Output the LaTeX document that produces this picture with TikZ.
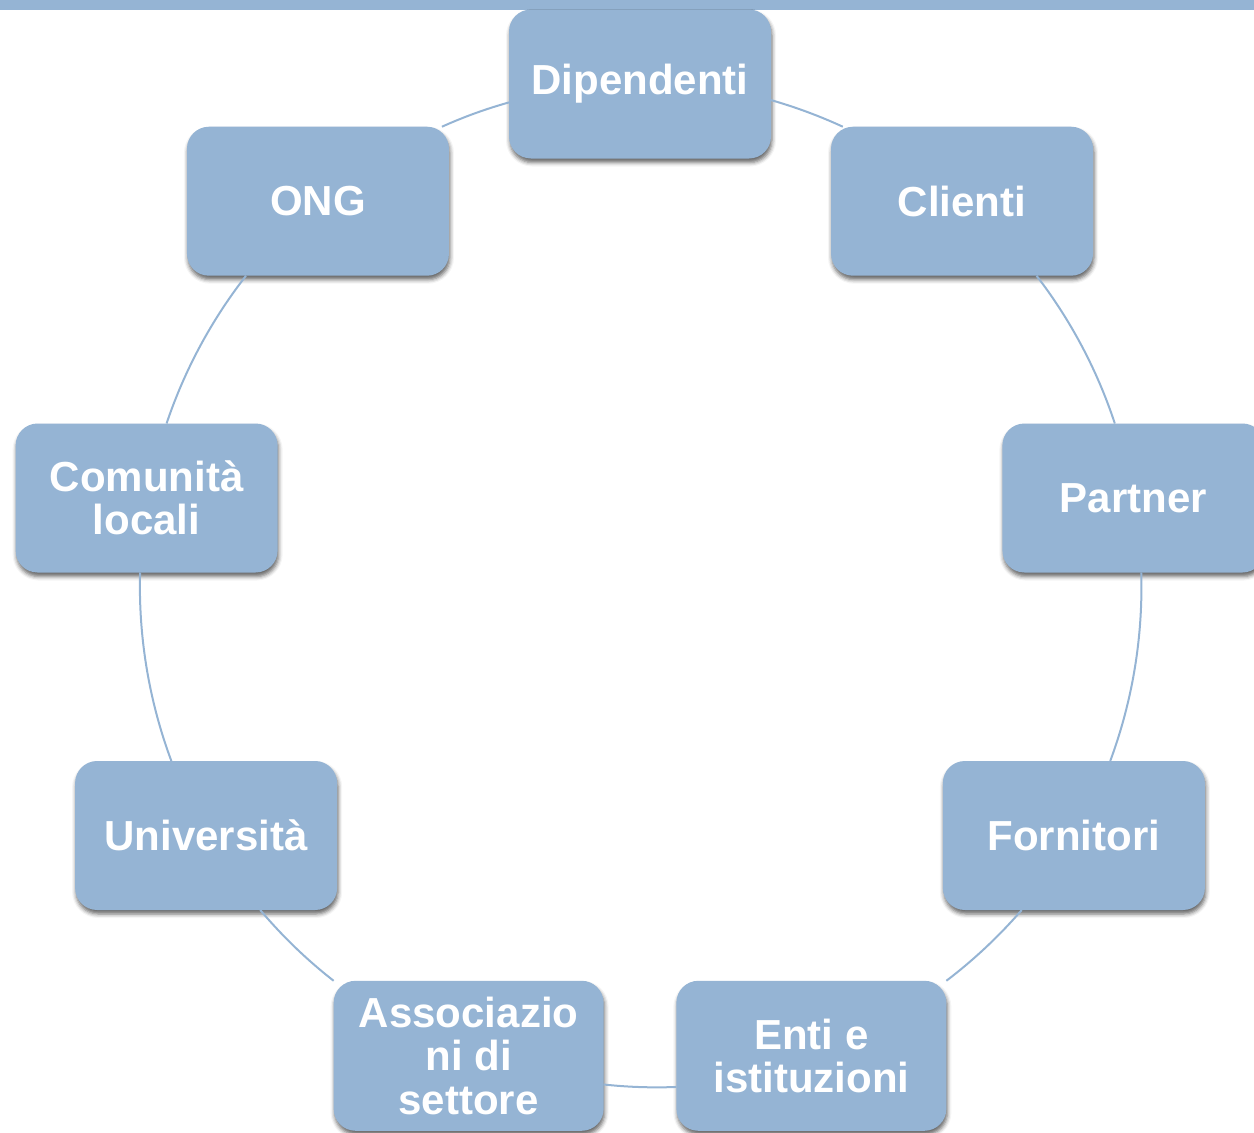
\documentclass[tikz,border=0pt]{standalone}
\usepackage{fontspec}
\setmainfont{Liberation Sans}
\usetikzlibrary{shadows,shadows.blur}
\definecolor{ringblue}{RGB}{149,180,212}

\begin{document}
\begin{tikzpicture}[x=1pt,y=1pt,
		box/.style={rounded corners=22pt, fill=ringblue, text=white, outer sep=0pt, inner sep=2pt,
			minimum width=262pt, minimum height=149pt, align=center,
			font=\fontsize{42}{43.5}\selectfont\bfseries,
			blur shadow={shadow xshift=1pt, shadow yshift=-4pt, shadow blur radius=4pt, shadow opacity=60}},
		link/.style={draw=ringblue, line width=2pt, looseness=0.86}]

		\clip (0,0) rectangle (1254,-1133);
		\fill [ringblue] (0,0) rectangle (1254,-10);

		\begin{scope}[shift={(640,-585)}]
			\node [box] (dip) at (90:501) {Dipendenti};
			\node [box] (cli) at (50:501) {Clienti};
			\node [box] (par) at (10:501) {Partner};
			\node [box] (forn) at (-30:501) {Fornitori};
			\node [box, minimum width=270pt, minimum height=150pt] (enti) at (-70:501) {Enti e\\istituzioni};
			\node [box, minimum width=270pt, minimum height=150pt] (ass) at (-110:501) {Associazio\\ni di\\settore};
			\node [box] (uni) at (-150:501) {Università};
			\node [box] (com) at (170:501) {Comunità\\locali};
			\node [box] (ong) at (130:501) {ONG};
		\end{scope}

		\draw [link] (dip.-7.57) to[bend left=4.33] (cli.148.08);
		\draw [link] (cli.-45.94) to[bend left=9.67] (par.104.38);
		\draw [link] (par.-84.33) to[bend left=11] (forn.64.71);
		\draw [link] (forn.-125.22) to[bend left=5.9] (enti.north east);
		\draw [link] (enti.-167.92) to[bend left=4.17] (ass.-12.08);
		\draw [link] (ass.north west) to[bend left=5.9] (uni.-54.78);
		\draw [link] (uni.115.29) to[bend left=11] (com.-95.67);
		\draw [link] (com.75.62) to[bend left=9.67] (ong.-134.06);
		\draw [link] (ong.31.92) to[bend left=4.33] (dip.-172.43);

	\end{tikzpicture}
\end{document}
